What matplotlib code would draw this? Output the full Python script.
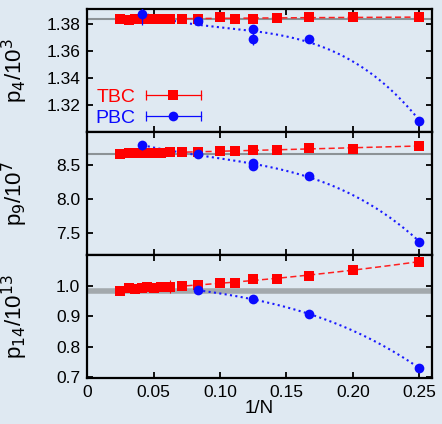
import numpy as np
import matplotlib
matplotlib.use("Agg")
import matplotlib.pyplot as plt
from matplotlib.lines import Line2D
from matplotlib.legend_handler import HandlerLine2D, HandlerTuple

plt.rcParams['font.family'] = ['Liberation Sans', 'DejaVu Sans']
plt.rcParams['font.size'] = 12.5

BG = '#dfe9f2'
RED = '#ff0000'
BLUE = '#0a0aff'

# 1/N for the twisted (TBC) and periodic (PBC) boundary runs
x_tbc = np.array([1/40, 1/32, 1/28, 1/24, 1/22, 1/20, 1/18, 1/16, 1/14, 1/12,
                  1/10, 1/9, 1/8, 1/7, 1/6, 1/5, 1/4])
x_pbc = np.array([1/24, 1/12, 1/8, 1/8, 1/6, 1/4])

# p4 / 10^3
p4_tbc = np.array([1.3834, 1.3828, 1.3830, 1.3834, 1.3834, 1.3834, 1.3834, 1.3834, 1.3834,
                   1.3834, 1.3848, 1.3836, 1.3836, 1.3838, 1.3846, 1.3846, 1.3846])
p4_tbc_err = np.array([0.0005] * 17)
p4_pbc = np.array([1.3869, 1.3822, 1.3759, 1.3690, 1.3684, 1.3089])
p4_pbc_err = np.array([0.008, 0.0008, 0.001, 0.005, 0.001, 0.001])
p4_ref = 1.3834

# p9 / 10^7
p9_tbc = np.array([8.666, 8.675, 8.675, 8.685, 8.680, 8.680, 8.685, 8.690, 8.690,
                   8.690, 8.714, 8.714, 8.720, 8.720, 8.758, 8.744, 8.788])
p9_tbc_err = np.array([0.01] * 17)
p9_pbc = np.array([8.792, 8.670, 8.534, 8.485, 8.340, 7.379])
p9_pbc_err = np.array([0.07, 0.01, 0.01, 0.03, 0.01, 0.01])
p9_ref = 8.67

# p14 / 10^13
p14_tbc = np.array([0.9815, 0.991, 0.988, 0.991, 0.994, 0.992, 0.994, 0.997, 0.999,
                    1.002, 1.008, 1.008, 1.021, 1.023, 1.032, 1.052, 1.079])
p14_tbc_err = np.array([0.003, 0.003, 0.003, 0.003, 0.003, 0.003, 0.003, 0.02, 0.003,
                        0.003, 0.003, 0.003, 0.003, 0.01, 0.003, 0.003, 0.01])
p14_pbc = np.array([0.985, 0.955, 0.908, 0.730])
x_pbc14 = np.array([1/12, 1/8, 1/6, 1/4])
p14_ref = 0.983

panels = [
    (r'p$_4$/10$^3$', p4_tbc, p4_tbc_err, x_pbc, p4_pbc, p4_pbc_err, p4_ref,
     (1.3005, 1.3907), [1.32, 1.34, 1.36, 1.38], ['1.32', '1.34', '1.36', '1.38'], 1.5),
    (r'p$_9$/10$^7$', p9_tbc, p9_tbc_err, x_pbc, p9_pbc, p9_pbc_err, p9_ref,
     (7.18, 8.99), [7.5, 8.0, 8.5], ['7.5', '8.0', '8.5'], 1.5),
    (r'p$_{14}$/10$^{13}$', p14_tbc, p14_tbc_err, x_pbc14, p14_pbc, None, p14_ref,
     (0.697, 1.10), [0.7, 0.8, 0.9, 1.0], ['0.7', '0.8', '0.9', '1.0'], 4),
]

fig, axes = plt.subplots(3, 1, figsize=(4.42, 4.24), dpi=100, sharex=True)
fig.patch.set_facecolor(BG)
fig.subplots_adjust(left=0.197, right=0.977, top=0.979, bottom=0.108, hspace=0)

for ax, (lab, yt, et, xp, yp, ep, ref, ylim, yt_pos, yt_lab, reflw) in zip(axes, panels):
    ax.set_facecolor(BG)
    ax.axhline(ref, color='#8c9296' if reflw < 2 else '#a3a9ad', lw=reflw, zorder=1)

    # smooth fits through each data set
    xf = np.linspace(x_tbc[0], x_tbc[-1], 200)
    ax.plot(xf, np.polyval(np.polyfit(x_tbc, yt, 2), xf), color='#ff2020',
            ls=(0, (4, 2.2)), lw=1.1, zorder=2)
    xf2 = np.linspace(xp[0], xp[-1], 200)
    ax.plot(xf2, np.polyval(np.polyfit(xp, yp, 3), xf2), color='#1a1aff',
            ls=(0, (1, 1.6)), lw=1.5, zorder=2)

    ax.errorbar(x_tbc, yt, yerr=et, fmt='s', color=RED, ms=6.5, mew=0,
                elinewidth=0.8, capsize=2.5, capthick=0.8, zorder=3)
    ax.errorbar(xp, yp, yerr=ep, fmt='o', color=BLUE, ms=7, mew=0,
                elinewidth=0.9, capsize=2.5, capthick=0.9, zorder=4)

    ax.set_ylim(*ylim)
    ax.set_yticks(yt_pos)
    ax.set_yticklabels(yt_lab)
    ax.set_ylabel(lab, fontsize=16)
    ax.yaxis.set_label_coords(-0.165, 0.5)
    ax.tick_params(direction='in', length=4.5, width=1.3, top=True, right=True, pad=5)
    for s in ax.spines.values():
        s.set_linewidth(1.6)

axes[-1].set_xlim(0, 0.2594)
axes[-1].set_xticks([0, 0.05, 0.10, 0.15, 0.20, 0.25])
axes[-1].set_xticklabels(['0', '0.05', '0.10', '0.15', '0.20', '0.25'])
axes[-1].set_xlabel('1/N', fontsize=13.5, labelpad=0)

# legend samples: horizontal bar with end caps and the marker in the middle
tbc_bar = Line2D([], [], color=RED, lw=0.9, marker='|', ms=7, mew=0.9)
tbc_pt = Line2D([], [], color=RED, ls='none', marker='s', ms=6.5, mew=0)
pbc_bar = Line2D([], [], color=BLUE, lw=0.9, marker='|', ms=7, mew=0.9)
pbc_pt = Line2D([], [], color=BLUE, ls='none', marker='o', ms=7, mew=0)
hmap = {tbc_bar: HandlerLine2D(numpoints=2), pbc_bar: HandlerLine2D(numpoints=2),
        tbc_pt: HandlerLine2D(numpoints=1), pbc_pt: HandlerLine2D(numpoints=1),
        tuple: HandlerTuple(ndivide=1, pad=0)}
axes[0].legend([(tbc_bar, tbc_pt), (pbc_bar, pbc_pt)], ['TBC', 'PBC'],
               handler_map=hmap, loc='lower left', bbox_to_anchor=(-0.012, -0.06),
               frameon=False, markerfirst=False, handlelength=3.4, handletextpad=0.25,
               labelspacing=0.15, borderaxespad=0.25, fontsize=14,
               labelcolor=[RED, BLUE])

fig.savefig('out.png', dpi=100, facecolor=BG)
